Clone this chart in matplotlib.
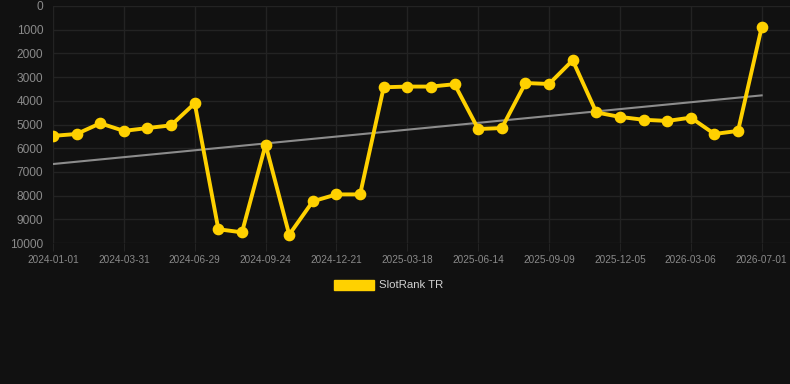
import numpy as np
import matplotlib
matplotlib.use('Agg')
import matplotlib.pyplot as plt
from matplotlib.patches import Patch

plt.rcParams['font.family'] = ['Liberation Sans', 'DejaVu Sans']

# monthly ranks (lower = better)
rank = [5480, 5400, 4950, 5270, 5150, 5035, 4105, 9420, 9550, 5850,
        9650, 8240, 7950, 7950, 3430, 3400, 3400, 3300, 5190, 5150,
        3250, 3290, 2290, 4490, 4680, 4800, 4850, 4710, 5400, 5270, 900]
tick_labels = ['2024-01-01', '2024-03-31', '2024-06-29', '2024-09-24', '2024-12-21',
               '2025-03-18', '2025-06-14', '2025-09-09', '2025-12-05', '2026-03-06',
               '2026-07-01']
y_ticks = [0, 1000, 2000, 3000, 4000, 5000, 6000, 7000, 8000, 9000, 10000]

bg = '#111111'
yellow = '#FFD100'
grid_c = '#232323'
txt_c = '#8a8a8a'

x = np.arange(len(rank))
# trend line (least squares fit)
k, b = np.polyfit(x, rank, 1)

fig = plt.figure(figsize=(7.9, 3.84), dpi=100, facecolor=bg)
ax = fig.add_axes([53/790, 1 - 243/384, 1 - 53/790, (243 - 6)/384])
ax.set_facecolor(bg)

ax.plot(x, k*x + b, color='#8c8c8c', lw=1.5, zorder=2)
ax.plot(x, rank, color=yellow, lw=2.8, marker='o', ms=7.4, zorder=3)

ax.set_ylim(10000, 0)
ax.set_xlim(0, 31.2)
ax.set_yticks(y_ticks)
ax.set_yticklabels([str(v) for v in y_ticks], color=txt_c, fontsize=8.6)
ax.set_xticks(x[::3])
ax.set_xticklabels(tick_labels, color=txt_c, fontsize=7.2)
ax.tick_params(axis='y', length=0, pad=7)
ax.tick_params(axis='x', length=6, color=grid_c, pad=2.5)
ax.grid(True, color=grid_c, lw=1)
ax.set_axisbelow(True)
for s in ax.spines.values():
    s.set_visible(False)

fig.legend(handles=[Patch(color=yellow, label='SlotRank TR')], loc='center',
           bbox_to_anchor=(389/790, 1 - 285/384), frameon=False,
           labelcolor='#d0d0d0', fontsize=8.2, handlelength=3.5, handleheight=1.0,
           handletextpad=0.45)

fig.savefig('out.png', dpi=100, facecolor=bg)
